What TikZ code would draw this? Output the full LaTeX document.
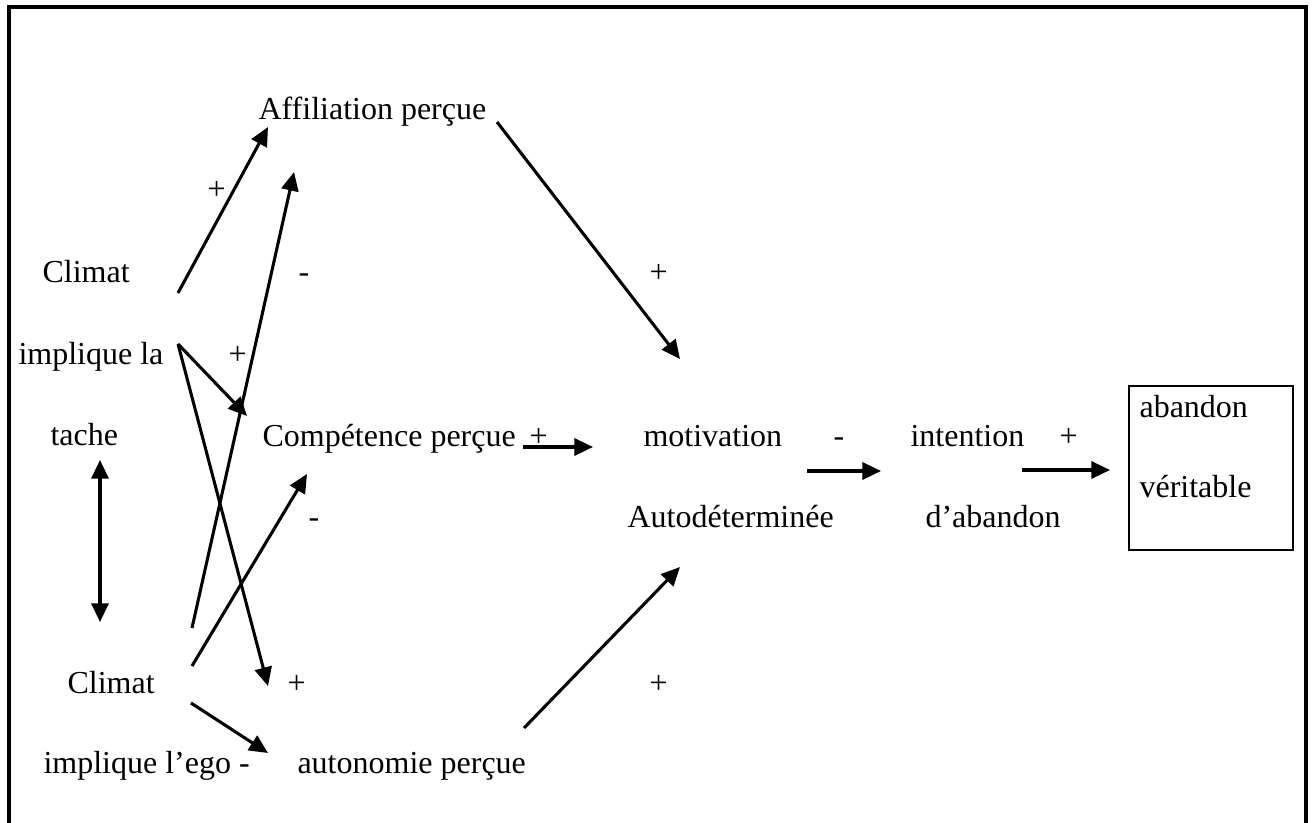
\documentclass[tikz,border=0pt]{standalone}
\usepackage{fontspec}
\setmainfont{Liberation Serif}
\usetikzlibrary{arrows.meta}
\begin{document}
\begin{tikzpicture}[x=0.375pt,y=-0.375pt,
  lbl/.style={anchor=base west,inner sep=0pt,font=\fontsize{12pt}{14pt}\selectfont},
  arr/.style={line width=1.15pt,-{Triangle[length=7pt,width=6.4pt]}},
  darr/.style={line width=1.15pt,{Triangle[length=7pt,width=6.4pt]}-{Triangle[length=7pt,width=6.4pt]}}]
\useasboundingbox (0,0) rectangle (1312,823);
% outer frame (open at the bottom)
\draw[line width=1.5pt] (9,823) -- (9,7) -- (1306,7) -- (1306,823);
% text
\node[lbl] (affil) at (258,120) {Affiliation perçue};
\node[lbl] (clim1) at (42,283) {Climat};
\node[lbl] (impl1) at (18,365) {implique la};
\node[lbl] (tache) at (50,445) {tache};
\node[lbl] (compet) at (262,446) {Compétence perçue};
\node[lbl] (motiv) at (643,446) {motivation};
\node[lbl] (autod) at (627,527) {Autodéterminée};
\node[lbl] (inten) at (910,446) {intention};
\node[lbl] (dab) at (925,527) {d’abandon};
\node[lbl] (aban) at (1139,417) {abandon};
\node[lbl] (verit) at (1139,497) {véritable};
\node[lbl] (clim2) at (67,693) {Climat};
\node[lbl] (impl2) at (43,773) {implique l’ego -};
\node[lbl] (auton) at (297,773) {autonomie perçue};
% signs
\node[lbl] (s1) at (207,200) {+};
\node[lbl] (s2) at (298,283) {-};
\node[lbl] (s3) at (228,365) {+};
\node[lbl] (s4) at (649,283) {+};
\node[lbl] (s5) at (529,446) {+};
\node[lbl] (s6) at (833,446) {-};
\node[lbl] (s7) at (1059,446) {+};
\node[lbl] (s8) at (308,527) {-};
\node[lbl] (s9) at (287,693) {+};
\node[lbl] (s10) at (649,693) {+};
% box
\draw[line width=1.1pt] (1129,386) rectangle (1293,550);
% arrow endpoints
\coordinate (p1a) at (178,293); \coordinate (p1b) at (268,127);
\coordinate (p2a) at (192,628); \coordinate (p2b) at (294,172);
\coordinate (p3a) at (178,344); \coordinate (p3b) at (247,416);
\coordinate (p4b) at (268,686);
\coordinate (p5a) at (192,666); \coordinate (p5b) at (307,474);
\coordinate (p6a) at (191,703); \coordinate (p6b) at (268,753);
\coordinate (p7a) at (497,122); \coordinate (p7b) at (680,359);
\coordinate (p8a) at (523,447); \coordinate (p8b) at (593,447);
\coordinate (p9a) at (807,471); \coordinate (p9b) at (881,471);
\coordinate (p10a) at (1022,470); \coordinate (p10b) at (1110,470);
\coordinate (p11a) at (524,728); \coordinate (p11b) at (680,567);
\coordinate (p12a) at (100,460); \coordinate (p12b) at (100,622);
% arrows
\draw[arr] (p1a) -- (p1b);
\draw[arr] (p2a) -- (p2b);
\draw[arr] (p3a) -- (p3b);
\draw[arr] (p3a) -- (p4b);
\draw[arr] (p5a) -- (p5b);
\draw[arr] (p6a) -- (p6b);
\draw[arr] (p7a) -- (p7b);
\draw[arr] (p8a) -- (p8b);
\draw[arr] (p9a) -- (p9b);
\draw[arr] (p10a) -- (p10b);
\draw[arr] (p11a) -- (p11b);
\draw[darr] (p12a) -- (p12b);
\end{tikzpicture}
\end{document}
